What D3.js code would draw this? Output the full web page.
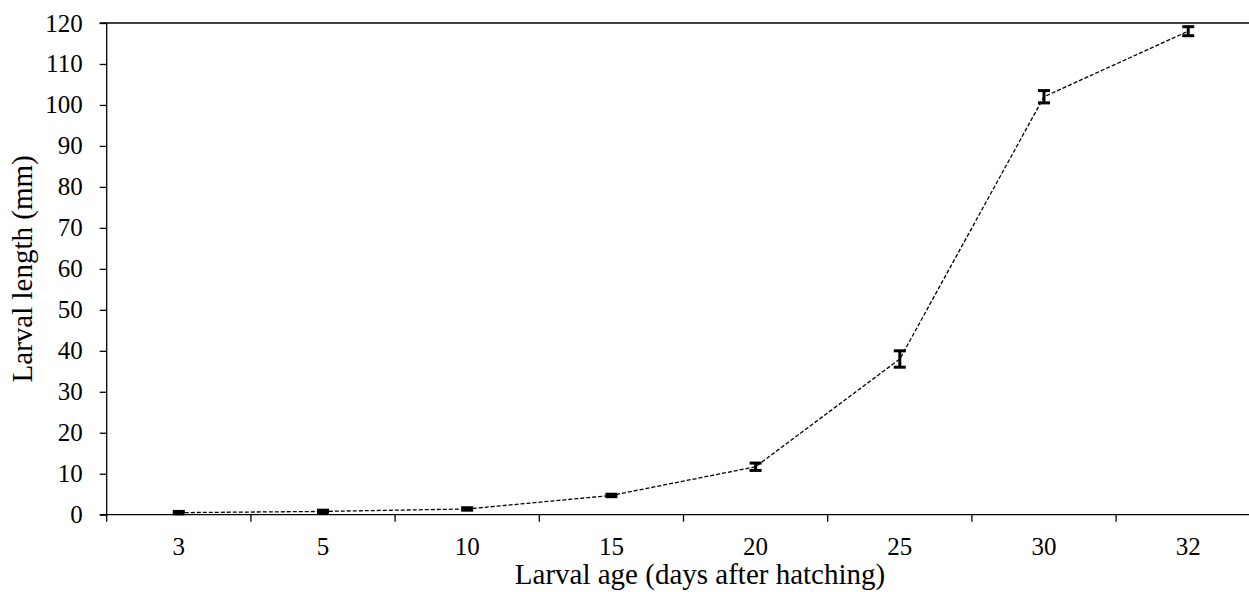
<!DOCTYPE html>
<html>
<head>
<meta charset="utf-8">
<script src="https://cdn.jsdelivr.net/npm/d3@7"></script>
<style>
  body { margin: 0; background: #fff; }
  svg { display: block; }
</style>
</head>
<body>
<div class="chart"></div>
<script>
// larval age categories (days after hatching)
var ages = ["3", "5", "10", "15", "20", "25", "30", "32"];
// mean larval length (mm)
var lengths = [0.5, 0.8, 1.4, 4.7, 11.7, 38, 102, 118];
// error (+/- mm)
var errors = [0.3, 0.3, 0.3, 0.3, 0.9, 2, 1.5, 1.1];
var yTicks = [0, 10, 20, 30, 40, 50, 60, 70, 80, 90, 100, 110, 120];

var W = 1249, H = 592;
var margin = {top: 23, left: 106.7, bottom: 77.3};
var plotRight = 1260.3;
var FONT = "'Liberation Serif', 'Times New Roman', Times, serif";

var svg = d3.select(".chart").append("svg")
    .attr("width", W)
    .attr("height", H)
    .attr("font-family", FONT);

var x = d3.scaleBand()
    .domain(ages)
    .range([margin.left, plotRight]);

var y = d3.scaleLinear()
    .domain([0, 120])
    .range([H - margin.bottom, margin.top]);

// top frame line
svg.append("line")
    .attr("x1", margin.left - 7).attr("x2", W)
    .attr("y1", y(120)).attr("y2", y(120))
    .attr("stroke", "#000").attr("stroke-width", 1.3);

//y axis
var yAxis = svg.append("g")
    .attr("transform", "translate(" + margin.left + ",0)")
    .call(d3.axisLeft(y).tickValues(yTicks).tickSize(7).tickPadding(17).tickSizeOuter(0));
yAxis.attr("font-family", FONT).attr("font-size", 25);
yAxis.select(".domain").remove();
yAxis.append("line")
    .attr("x1", 0).attr("x2", 0)
    .attr("y1", y(120)).attr("y2", y(0) + 7)
    .attr("stroke", "#000").attr("stroke-width", 1.3);
yAxis.selectAll(".tick line").attr("stroke-width", 1.3);
yAxis.selectAll("text").attr("fill", "#000");

//x axis, ticks sit between categories
var xAxis = svg.append("g")
    .attr("transform", "translate(0," + y(0) + ")");
xAxis.append("line")
    .attr("x1", margin.left - 7).attr("x2", W)
    .attr("y1", 0).attr("y2", 0)
    .attr("stroke", "#000").attr("stroke-width", 1.3);
xAxis.selectAll(".sep")
    .data(ages.slice(1))
    .enter().append("line")
    .attr("class", "sep")
    .attr("x1", function(d) { return x(d); })
    .attr("x2", function(d) { return x(d); })
    .attr("y1", 0).attr("y2", 7)
    .attr("stroke", "#000").attr("stroke-width", 1.3);
xAxis.selectAll(".lbl")
    .data(ages)
    .enter().append("text")
    .attr("class", "lbl")
    .attr("x", function(d) { return x(d) + x.bandwidth() / 2; })
    .attr("y", 40)
    .attr("text-anchor", "middle")
    .attr("font-size", 25)
    .text(function(d) { return d; });

// axis titles
svg.append("text")
    .attr("x", 700).attr("y", 584)
    .attr("text-anchor", "middle")
    .attr("font-size", 29)
    .text("Larval age (days after hatching)");

svg.append("text")
    .attr("transform", "translate(32," + ((y(0) + y(120)) / 2) + ") rotate(-90)")
    .attr("text-anchor", "middle")
    .attr("font-size", 29)
    .text("Larval length (mm)");

var pts = ages.map(function(a, i) {
    return {age: a, v: lengths[i], e: errors[i]};
});
var cx = function(d) { return x(d.age) + x.bandwidth() / 2; };

// dashed connecting line
svg.append("path")
    .datum(pts)
    .attr("fill", "none")
    .attr("stroke", "#000")
    .attr("stroke-width", 1.3)
    .attr("stroke-dasharray", "4,2")
    .attr("d", d3.line().x(cx).y(function(d) { return y(d.v); }));

// error bars
var eb = svg.append("g").selectAll(".eb")
    .data(pts)
    .enter().append("g")
    .attr("class", "eb");
eb.append("line")
    .attr("x1", cx).attr("x2", cx)
    .attr("y1", function(d) { return y(d.v + d.e); })
    .attr("y2", function(d) { return y(d.v - d.e); })
    .attr("stroke", "#000").attr("stroke-width", 3);
eb.append("line")
    .attr("x1", function(d) { return cx(d) - 6; })
    .attr("x2", function(d) { return cx(d) + 6; })
    .attr("y1", function(d) { return y(d.v + d.e); })
    .attr("y2", function(d) { return y(d.v + d.e); })
    .attr("stroke", "#000").attr("stroke-width", 3);
eb.append("line")
    .attr("x1", function(d) { return cx(d) - 6; })
    .attr("x2", function(d) { return cx(d) + 6; })
    .attr("y1", function(d) { return y(d.v - d.e); })
    .attr("y2", function(d) { return y(d.v - d.e); })
    .attr("stroke", "#000").attr("stroke-width", 3);
</script>
</body>
</html>
